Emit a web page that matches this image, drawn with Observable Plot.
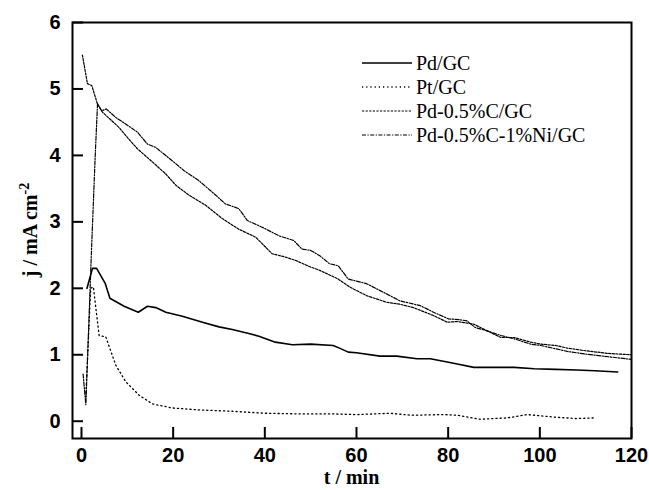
<!DOCTYPE html>
<html>
<head>
<meta charset="utf-8">
<script src="https://cdn.jsdelivr.net/npm/d3@7"></script>
<script src="https://cdn.jsdelivr.net/npm/@observablehq/plot@0.6"></script>
<style>
  html, body { margin: 0; padding: 0; background: #fff; }
</style>
</head>
<body>
<div id="chart"></div>
<script>
// ---- data (t in min, j in mA cm^-2) ----
const seriesNames = ["Pd/GC", "Pt/GC", "Pd-0.5%C/GC", "Pd-0.5%C-1%Ni/GC"];

const pdGC = [[1.2,2.0],[2.4,2.30],[3.3,2.30],[5.2,2.07],[6.2,1.85],[9.3,1.73],[12.4,1.64],[14.4,1.73],[16.2,1.71],[18.4,1.64],[22,1.58],[26.4,1.49],[30,1.42],[32.9,1.38],[36.5,1.32],[38.7,1.28],[42.3,1.19],[46,1.15],[50,1.16],[54.9,1.14],[56.3,1.10],[58.2,1.04],[60,1.03],[65.1,0.98],[68.8,0.98],[73.2,0.94],[76.1,0.94],[79.8,0.89],[82,0.86],[85.6,0.81],[90,0.81],[94.4,0.81],[98.8,0.79],[103.5,0.78],[108,0.77],[112,0.76],[117,0.74]];

const ptGC = [[0.9,0.3],[2.0,2.0],[2.6,2.02],[2.9,1.84],[3.85,1.29],[5.3,1.27],[7.5,0.84],[9.7,0.59],[12.6,0.39],[15.5,0.26],[19.8,0.20],[25.6,0.17],[32.9,0.15],[40.2,0.12],[47.6,0.11],[55,0.11],[60,0.10],[67.3,0.12],[72,0.09],[79,0.10],[82,0.09],[87,0.03],[92.9,0.05],[97.3,0.10],[103.5,0.06],[108,0.04],[112,0.05]];

const pdC = [[0.2,5.51],[1.3,5.08],[2.25,5.05],[3.5,4.77],[4.6,4.65],[8.2,4.42],[10,4.27],[12.2,4.10],[15.5,3.9],[18.4,3.72],[20.6,3.55],[23.5,3.40],[27.1,3.25],[30.7,3.05],[34.3,2.89],[38,2.77],[41.6,2.52],[44.5,2.47],[46.7,2.42],[50,2.32],[52,2.27],[56,2.14],[58.5,2.02],[62.2,1.89],[66.6,1.79],[69.5,1.76],[72.4,1.71],[76.8,1.59],[79.8,1.49],[82,1.50],[85.6,1.46],[88.5,1.36],[91.5,1.26],[94.4,1.26],[98,1.19],[100.2,1.16],[103.5,1.14],[106,1.10],[110,1.06],[115,1.02],[120,1.00]];

const pdCNi = [[0.35,0.71],[0.95,0.25],[2.2,2.6],[3.0,4.0],[3.5,4.78],[4.4,4.67],[5.4,4.70],[7.5,4.57],[9.7,4.47],[12.2,4.35],[14.4,4.17],[16.2,4.12],[19.8,3.92],[22.4,3.77],[25.6,3.62],[28.5,3.45],[31.4,3.27],[34.3,3.20],[36.2,3.02],[39.4,2.92],[43.1,2.79],[46.3,2.72],[48.1,2.59],[50,2.57],[52,2.49],[54.1,2.37],[56,2.34],[58.2,2.14],[62.2,2.07],[65.9,1.94],[69.5,1.81],[73.9,1.74],[76.8,1.64],[80.1,1.54],[82.3,1.53],[84.1,1.51],[85.9,1.41],[88.5,1.36],[91.5,1.29],[94.4,1.24],[98,1.16],[100.2,1.14],[103.5,1.09],[106,1.05],[110,1.01],[115,0.97],[120,0.93]];

const xTicks = [0, 20, 40, 60, 80, 100, 120];
const yTicks = [0, 1, 2, 3, 4, 5, 6];

// ---- styles ----
const styles = [
  {dash: null, width: 1.6},
  {dash: "1.2,3", width: 1.3},
  {dash: "2.2,1.4", width: 1.2},
  {dash: "4,1.5,1.2,1.5", width: 1.2}
];
const allSeries = [pdGC, ptGC, pdC, pdCNi];

const W = 649, H = 490;
const mL = 72, mR = 18, mT = 22, mB = 52;
const innerW = W - mL - mR, innerH = H - mT - mB;

const lineMarks = allSeries.map((s, i) =>
  Plot.line(s, {x: d => d[0], y: d => d[1], stroke: "black",
    strokeWidth: styles[i].width, strokeDasharray: styles[i].dash, curve: "linear"}));

const sansFont = "Liberation Sans, Arial, sans-serif";

const chart = Plot.plot({
  width: W, height: H,
  marginLeft: mL, marginRight: mR, marginTop: mT, marginBottom: mB,
  x: {domain: [-1.96, 120]},
  y: {domain: [-0.26, 6]},
  style: {background: "white", color: "black"},
  marks: [
    ...lineMarks,
    Plot.ruleX(xTicks, {x: d => d, insetTop: innerH - 11, stroke: "black", strokeWidth: 2}),
    Plot.ruleY(yTicks, {y: d => d, insetRight: innerW - 11, stroke: "black", strokeWidth: 2}),
    Plot.frame({stroke: "black", strokeWidth: 2}),
    Plot.axisX(xTicks, {tickSize: 0, tickPadding: 9, tickFormat: d => String(d), fontSize: 20, fontFamily: sansFont, fontWeight: "bold", label: null}),
    Plot.axisY(yTicks, {tickSize: 0, tickPadding: 12, tickFormat: d => String(d), fontSize: 20, fontFamily: sansFont, fontWeight: "bold", label: null})
  ]
});

document.getElementById("chart").appendChild(chart);

// ---- titles & legend ----
const svg = d3.select(chart);
const serif = "Liberation Serif, Times New Roman, serif";

svg.append("text")
  .attr("x", mL + innerW / 2).attr("y", 484)
  .attr("text-anchor", "middle")
  .attr("font-family", serif).attr("font-weight", "bold").attr("font-size", 20)
  .attr("fill", "black")
  .text("t / min");

const yt = svg.append("text")
  .attr("transform", `translate(37,${mT + innerH / 2}) rotate(-90)`)
  .attr("text-anchor", "middle")
  .attr("font-family", serif).attr("font-weight", "bold").attr("font-size", 20)
  .attr("fill", "black");
yt.append("tspan").text("j / mA cm");
yt.append("tspan").attr("dy", -8).attr("font-size", 14).text("-2");

const legX = 362, legY = 63, legStep = 24;
seriesNames.forEach((name, i) => {
  const cy = legY + i * legStep;
  svg.append("line")
    .attr("x1", legX).attr("x2", legX + 50).attr("y1", cy).attr("y2", cy)
    .attr("stroke", "black").attr("stroke-width", styles[i].width)
    .attr("stroke-dasharray", styles[i].dash);
  svg.append("text")
    .attr("x", legX + 54).attr("y", cy + 6.5)
    .attr("text-anchor", "start")
    .attr("font-family", serif).attr("font-size", 20).attr("fill", "black")
    .text(name);
});
</script>
</body>
</html>
